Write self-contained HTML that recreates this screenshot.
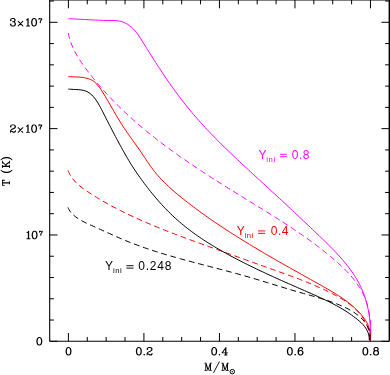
<!DOCTYPE html>
<html><head><meta charset="utf-8"><title>plot</title>
<style>
html,body{margin:0;padding:0;background:#fff;}
body{width:390px;height:375px;overflow:hidden;position:relative;font-family:"Liberation Sans",sans-serif;}
svg{position:absolute;left:0;top:0;will-change:transform;}
text{font-family:"Liberation Sans",sans-serif;font-size:12px;}
.ser{font-family:"Liberation Serif",serif;font-size:12px;}
</style></head><body>
<svg width="390" height="375" viewBox="0 0 390 375">
<rect x="0" y="0" width="390" height="375" fill="#fff"/>
<g fill="none" stroke="#000" stroke-width="1">
<path d="M49.7 0V341.3" stroke-width="1.1"/><path d="M49.7 341.3H389.3" stroke-width="1.1"/><path d="M389.3 0V341.3" stroke-width="1.4"/><path d="M49.7 0H389.3" stroke-width="1"/>
<path d="M68.40 341.30V333.00M68.40 0.00V8.30"/>
<path d="M87.28 341.30V337.00M87.28 0.00V4.30"/>
<path d="M106.16 341.30V337.00M106.16 0.00V4.30"/>
<path d="M125.04 341.30V337.00M125.04 0.00V4.30"/>
<path d="M143.92 341.30V333.00M143.92 0.00V8.30"/>
<path d="M162.80 341.30V337.00M162.80 0.00V4.30"/>
<path d="M181.68 341.30V337.00M181.68 0.00V4.30"/>
<path d="M200.56 341.30V337.00M200.56 0.00V4.30"/>
<path d="M219.44 341.30V333.00M219.44 0.00V8.30"/>
<path d="M238.32 341.30V337.00M238.32 0.00V4.30"/>
<path d="M257.20 341.30V337.00M257.20 0.00V4.30"/>
<path d="M276.08 341.30V337.00M276.08 0.00V4.30"/>
<path d="M294.96 341.30V333.00M294.96 0.00V8.30"/>
<path d="M313.84 341.30V337.00M313.84 0.00V4.30"/>
<path d="M332.72 341.30V337.00M332.72 0.00V4.30"/>
<path d="M351.60 341.30V337.00M351.60 0.00V4.30"/>
<path d="M370.48 341.30V333.00M370.48 0.00V8.30"/>
<path d="M49.70 341.30H57.50M389.30 341.30H381.50"/>
<path d="M49.70 320.03H53.90M389.30 320.03H385.10"/>
<path d="M49.70 298.77H53.90M389.30 298.77H385.10"/>
<path d="M49.70 277.50H53.90M389.30 277.50H385.10"/>
<path d="M49.70 256.24H53.90M389.30 256.24H385.10"/>
<path d="M49.70 234.97H57.50M389.30 234.97H381.50"/>
<path d="M49.70 213.70H53.90M389.30 213.70H385.10"/>
<path d="M49.70 192.44H53.90M389.30 192.44H385.10"/>
<path d="M49.70 171.17H53.90M389.30 171.17H385.10"/>
<path d="M49.70 149.91H53.90M389.30 149.91H385.10"/>
<path d="M49.70 128.64H57.50M389.30 128.64H381.50"/>
<path d="M49.70 107.37H53.90M389.30 107.37H385.10"/>
<path d="M49.70 86.11H53.90M389.30 86.11H385.10"/>
<path d="M49.70 64.84H53.90M389.30 64.84H385.10"/>
<path d="M49.70 43.58H53.90M389.30 43.58H385.10"/>
<path d="M49.70 22.31H57.50M389.30 22.31H381.50"/>
<path d="M49.70 1.04H53.90M389.30 1.04H385.10"/>
</g>
<g fill="none" stroke-width="1.0" stroke-linecap="butt" stroke-linejoin="round">
<path d="M68.30 18.70 C68.72 18.72 70.00 18.78 70.84 18.81 C71.68 18.85 72.52 18.89 73.36 18.93 C74.19 18.97 75.03 19.02 75.86 19.06 C76.69 19.10 77.51 19.14 78.34 19.19 C79.16 19.23 79.99 19.27 80.81 19.31 C81.63 19.36 82.45 19.40 83.27 19.45 C84.10 19.49 84.92 19.53 85.74 19.58 C86.56 19.62 87.39 19.66 88.21 19.71 C89.04 19.75 89.86 19.79 90.69 19.84 C91.52 19.88 92.35 19.92 93.18 19.96 C94.02 20.01 94.85 20.05 95.69 20.09 C96.53 20.13 97.38 20.17 98.23 20.20 C99.07 20.24 99.92 20.28 100.77 20.31 C101.62 20.34 102.47 20.37 103.32 20.40 C104.17 20.43 105.02 20.45 105.87 20.47 C106.72 20.49 107.57 20.50 108.41 20.51 C109.26 20.52 110.10 20.52 110.94 20.52 C111.78 20.53 112.62 20.52 113.45 20.53 C114.28 20.55 115.10 20.56 115.92 20.62 C116.74 20.68 117.56 20.75 118.37 20.87 C119.17 20.99 119.98 21.16 120.77 21.36 C121.56 21.57 122.34 21.82 123.11 22.11 C123.88 22.40 124.64 22.73 125.38 23.10 C126.12 23.46 126.84 23.86 127.55 24.29 C128.26 24.72 128.94 25.19 129.61 25.68 C130.27 26.17 130.92 26.69 131.54 27.23 C132.16 27.77 132.75 28.34 133.33 28.93 C133.91 29.51 134.46 30.13 135.00 30.75 C135.54 31.38 136.06 32.02 136.57 32.68 C137.08 33.34 137.57 34.01 138.06 34.69 C138.54 35.37 139.02 36.07 139.48 36.77 C139.95 37.47 140.40 38.18 140.86 38.90 C141.31 39.61 141.76 40.33 142.20 41.05 C142.65 41.77 143.09 42.49 143.54 43.21 C143.98 43.93 144.43 44.65 144.87 45.37 C145.32 46.08 145.76 46.80 146.21 47.52 C146.65 48.23 147.10 48.95 147.55 49.66 C147.99 50.38 148.44 51.09 148.88 51.80 C149.33 52.52 149.78 53.23 150.22 53.94 C150.67 54.65 151.12 55.36 151.57 56.07 C152.02 56.78 152.46 57.48 152.91 58.19 C153.36 58.90 153.81 59.60 154.26 60.31 C154.71 61.01 155.16 61.72 155.62 62.42 C156.07 63.12 156.52 63.82 156.97 64.52 C157.43 65.22 157.88 65.92 158.34 66.62 C158.79 67.32 159.25 68.02 159.70 68.71 C160.16 69.41 160.62 70.10 161.08 70.80 C161.54 71.49 162.00 72.18 162.46 72.88 C162.92 73.57 163.38 74.26 163.84 74.95 C164.31 75.64 164.77 76.32 165.24 77.01 C165.70 77.70 166.17 78.38 166.64 79.07 C167.11 79.75 167.58 80.43 168.05 81.12 C168.52 81.80 168.99 82.48 169.47 83.16 C169.94 83.84 170.42 84.51 170.89 85.19 C171.37 85.87 171.85 86.54 172.33 87.22 C172.81 87.89 173.29 88.56 173.78 89.23 C174.26 89.90 174.75 90.57 175.24 91.24 C175.72 91.91 176.21 92.58 176.70 93.24 C177.20 93.91 177.69 94.57 178.18 95.23 C178.68 95.90 179.18 96.56 179.68 97.22 C180.18 97.88 180.68 98.53 181.18 99.19 C181.68 99.85 182.19 100.50 182.70 101.16 C183.20 101.81 183.71 102.46 184.23 103.11 C184.74 103.76 185.25 104.41 185.77 105.06 C186.29 105.70 186.81 106.35 187.33 106.99 C187.85 107.64 188.37 108.28 188.90 108.92 C189.43 109.56 189.96 110.20 190.49 110.84 C191.02 111.48 191.55 112.11 192.09 112.75 C192.63 113.38 193.17 114.01 193.71 114.64 C194.25 115.27 194.79 115.90 195.34 116.53 C195.88 117.16 196.43 117.79 196.98 118.41 C197.53 119.04 198.08 119.66 198.63 120.28 C199.19 120.91 199.74 121.53 200.30 122.15 C200.86 122.77 201.42 123.38 201.98 124.00 C202.54 124.62 203.11 125.23 203.67 125.85 C204.24 126.46 204.81 127.07 205.38 127.69 C205.95 128.30 206.52 128.91 207.09 129.52 C207.66 130.12 208.24 130.73 208.81 131.34 C209.39 131.94 209.97 132.55 210.55 133.15 C211.13 133.76 211.71 134.36 212.29 134.96 C212.87 135.56 213.46 136.16 214.04 136.76 C214.63 137.36 215.21 137.96 215.80 138.56 C216.39 139.16 216.98 139.75 217.57 140.35 C218.16 140.94 218.75 141.54 219.35 142.13 C219.94 142.72 220.54 143.31 221.13 143.91 C221.73 144.50 222.32 145.09 222.92 145.68 C223.52 146.26 224.12 146.85 224.72 147.44 C225.32 148.03 225.92 148.61 226.52 149.20 C227.13 149.78 227.73 150.37 228.33 150.95 C228.94 151.53 229.54 152.12 230.15 152.70 C230.75 153.28 231.36 153.86 231.97 154.44 C232.58 155.02 233.18 155.60 233.79 156.18 C234.40 156.76 235.01 157.34 235.62 157.92 C236.23 158.49 236.84 159.07 237.45 159.65 C238.07 160.22 238.68 160.80 239.29 161.37 C239.90 161.95 240.52 162.52 241.13 163.09 C241.74 163.67 242.36 164.24 242.97 164.81 C243.58 165.38 244.20 165.95 244.81 166.53 C245.43 167.10 246.04 167.67 246.66 168.24 C247.27 168.81 247.89 169.38 248.50 169.94 C249.12 170.51 249.74 171.08 250.35 171.65 C250.97 172.22 251.58 172.79 252.20 173.35 C252.81 173.92 253.43 174.49 254.05 175.05 C254.66 175.62 255.28 176.18 255.89 176.75 C256.51 177.32 257.12 177.88 257.74 178.45 C258.36 179.01 258.97 179.58 259.58 180.14 C260.20 180.70 260.81 181.27 261.43 181.83 C262.04 182.40 262.66 182.96 263.27 183.52 C263.88 184.09 264.50 184.65 265.11 185.21 C265.72 185.77 266.33 186.34 266.95 186.90 C267.56 187.46 268.17 188.02 268.78 188.59 C269.39 189.15 270.00 189.71 270.61 190.27 C271.22 190.84 271.83 191.40 272.44 191.96 C273.05 192.52 273.66 193.08 274.27 193.65 C274.88 194.21 275.49 194.77 276.10 195.33 C276.71 195.89 277.32 196.46 277.92 197.02 C278.53 197.58 279.14 198.14 279.75 198.70 C280.36 199.27 280.96 199.83 281.57 200.39 C282.18 200.95 282.78 201.52 283.39 202.08 C284.00 202.64 284.60 203.20 285.21 203.77 C285.82 204.33 286.42 204.89 287.03 205.46 C287.64 206.02 288.24 206.58 288.85 207.15 C289.45 207.71 290.06 208.28 290.66 208.84 C291.27 209.41 291.88 209.97 292.48 210.53 C293.09 211.10 293.69 211.67 294.30 212.23 C294.90 212.80 295.51 213.36 296.11 213.93 C296.72 214.50 297.32 215.06 297.92 215.63 C298.53 216.20 299.13 216.77 299.74 217.33 C300.34 217.90 300.95 218.47 301.55 219.04 C302.16 219.61 302.76 220.18 303.37 220.75 C303.97 221.32 304.57 221.89 305.18 222.46 C305.78 223.03 306.39 223.60 306.99 224.18 C307.60 224.75 308.20 225.32 308.81 225.90 C309.41 226.47 310.01 227.04 310.62 227.62 C311.22 228.19 311.83 228.77 312.43 229.35 C313.04 229.92 313.64 230.50 314.25 231.08 C314.85 231.65 315.46 232.23 316.06 232.81 C316.67 233.39 317.27 233.97 317.88 234.55 C318.48 235.13 319.09 235.71 319.69 236.30 C320.30 236.88 320.91 237.46 321.51 238.05 C322.12 238.63 322.72 239.22 323.33 239.80 C323.93 240.39 324.54 240.98 325.14 241.57 C325.74 242.15 326.34 242.74 326.95 243.34 C327.55 243.93 328.15 244.52 328.74 245.12 C329.34 245.71 329.94 246.31 330.53 246.91 C331.13 247.51 331.72 248.11 332.31 248.71 C332.90 249.31 333.48 249.92 334.07 250.52 C334.65 251.13 335.23 251.74 335.81 252.35 C336.39 252.96 336.96 253.57 337.54 254.19 C338.11 254.81 338.67 255.43 339.24 256.05 C339.80 256.67 340.36 257.29 340.92 257.92 C341.47 258.55 342.02 259.18 342.57 259.81 C343.11 260.45 343.65 261.08 344.19 261.72 C344.73 262.36 345.26 263.01 345.78 263.65 C346.31 264.30 346.83 264.95 347.34 265.60 C347.85 266.26 348.36 266.91 348.86 267.58 C349.36 268.24 349.86 268.90 350.35 269.57 C350.84 270.24 351.32 270.91 351.79 271.59 C352.27 272.27 352.74 272.95 353.20 273.64 C353.66 274.32 354.11 275.01 354.55 275.71 C355.00 276.40 355.44 277.10 355.86 277.80 C356.29 278.51 356.71 279.22 357.13 279.93 C357.54 280.64 357.94 281.36 358.34 282.09 C358.73 282.81 359.11 283.54 359.49 284.27 C359.87 285.01 360.23 285.74 360.59 286.49 C360.95 287.23 361.29 287.98 361.63 288.74 C361.97 289.49 362.29 290.26 362.61 291.02 C362.93 291.79 363.23 292.56 363.53 293.34 C363.83 294.11 364.11 294.90 364.39 295.68 C364.66 296.47 364.93 297.26 365.19 298.06 C365.44 298.85 365.69 299.65 365.93 300.45 C366.16 301.26 366.39 302.06 366.61 302.87 C366.83 303.68 367.03 304.50 367.23 305.31 C367.43 306.13 367.62 306.95 367.80 307.77 C367.98 308.59 368.15 309.42 368.31 310.24 C368.47 311.07 368.62 311.90 368.76 312.73 C368.91 313.56 369.04 314.39 369.16 315.23 C369.29 316.06 369.40 316.89 369.51 317.73 C369.62 318.56 369.71 319.40 369.80 320.24 C369.89 321.07 369.97 321.91 370.04 322.75 C370.11 323.59 370.18 324.42 370.23 325.26 C370.28 326.10 370.33 326.93 370.37 327.77 C370.40 328.61 370.43 329.44 370.45 330.28 C370.47 331.11 370.48 331.94 370.49 332.77 C370.49 333.60 370.49 334.43 370.47 335.26 C370.46 336.09 370.44 336.92 370.41 337.74 C370.38 338.56 370.32 339.79 370.30 340.20" stroke="#ff00ff"/>
<path d="M68.20 33.00 C68.29 33.41 68.54 34.65 68.73 35.47 C68.93 36.28 69.14 37.09 69.37 37.90 C69.60 38.70 69.84 39.50 70.10 40.29 C70.35 41.08 70.63 41.87 70.91 42.64 C71.20 43.42 71.50 44.20 71.81 44.96 C72.12 45.73 72.45 46.49 72.79 47.25 C73.13 48.01 73.48 48.76 73.84 49.51 C74.20 50.25 74.58 50.99 74.96 51.73 C75.34 52.47 75.74 53.20 76.14 53.93 C76.55 54.65 76.96 55.38 77.39 56.09 C77.81 56.81 78.24 57.53 78.68 58.24 C79.12 58.95 79.57 59.65 80.03 60.35 C80.48 61.05 80.95 61.75 81.41 62.45 C81.88 63.14 82.36 63.83 82.84 64.52 C83.32 65.21 83.81 65.89 84.30 66.57 C84.79 67.25 85.29 67.93 85.79 68.61 C86.29 69.28 86.79 69.95 87.30 70.62 C87.81 71.29 88.32 71.96 88.83 72.63 C89.34 73.29 89.86 73.95 90.38 74.61 C90.89 75.27 91.41 75.93 91.94 76.58 C92.46 77.24 92.98 77.89 93.51 78.54 C94.04 79.19 94.57 79.84 95.10 80.49 C95.63 81.13 96.17 81.77 96.70 82.42 C97.24 83.06 97.78 83.69 98.32 84.33 C98.86 84.97 99.40 85.60 99.95 86.23 C100.50 86.86 101.04 87.49 101.60 88.12 C102.15 88.75 102.70 89.37 103.25 90.00 C103.81 90.62 104.37 91.24 104.92 91.86 C105.48 92.47 106.05 93.09 106.61 93.70 C107.17 94.32 107.74 94.93 108.31 95.54 C108.87 96.15 109.44 96.76 110.02 97.36 C110.59 97.97 111.16 98.57 111.74 99.17 C112.32 99.77 112.89 100.37 113.47 100.96 C114.05 101.56 114.64 102.16 115.22 102.75 C115.80 103.34 116.39 103.93 116.98 104.52 C117.57 105.11 118.16 105.69 118.75 106.28 C119.34 106.86 119.94 107.44 120.53 108.02 C121.13 108.60 121.73 109.18 122.33 109.75 C122.93 110.33 123.53 110.90 124.13 111.48 C124.73 112.05 125.34 112.62 125.95 113.19 C126.55 113.75 127.16 114.32 127.77 114.88 C128.38 115.45 128.99 116.01 129.61 116.57 C130.22 117.13 130.84 117.69 131.46 118.24 C132.07 118.80 132.69 119.35 133.31 119.91 C133.93 120.46 134.56 121.01 135.18 121.56 C135.81 122.11 136.43 122.65 137.06 123.20 C137.69 123.74 138.32 124.29 138.95 124.83 C139.58 125.37 140.21 125.91 140.84 126.45 C141.48 126.98 142.11 127.52 142.75 128.06 C143.39 128.59 144.02 129.12 144.66 129.65 C145.30 130.18 145.94 130.71 146.59 131.24 C147.23 131.77 147.87 132.29 148.52 132.82 C149.17 133.34 149.81 133.86 150.46 134.38 C151.11 134.91 151.76 135.42 152.41 135.94 C153.06 136.46 153.71 136.98 154.37 137.49 C155.02 138.00 155.68 138.52 156.33 139.03 C156.99 139.54 157.65 140.05 158.31 140.56 C158.97 141.07 159.63 141.57 160.29 142.08 C160.95 142.58 161.61 143.09 162.28 143.59 C162.94 144.09 163.61 144.59 164.27 145.09 C164.94 145.59 165.61 146.09 166.27 146.59 C166.94 147.09 167.61 147.58 168.28 148.08 C168.95 148.57 169.63 149.06 170.30 149.55 C170.97 150.05 171.65 150.54 172.32 151.03 C173.00 151.51 173.67 152.00 174.35 152.49 C175.03 152.97 175.71 153.46 176.39 153.94 C177.06 154.43 177.74 154.91 178.43 155.39 C179.11 155.87 179.79 156.35 180.47 156.83 C181.16 157.31 181.84 157.79 182.52 158.27 C183.21 158.74 183.90 159.22 184.58 159.69 C185.27 160.17 185.96 160.64 186.64 161.11 C187.33 161.59 188.02 162.06 188.71 162.53 C189.40 163.00 190.09 163.47 190.78 163.94 C191.48 164.41 192.17 164.87 192.86 165.34 C193.55 165.81 194.25 166.27 194.94 166.74 C195.64 167.20 196.33 167.66 197.03 168.13 C197.72 168.59 198.42 169.05 199.12 169.51 C199.81 169.97 200.51 170.43 201.21 170.89 C201.91 171.35 202.61 171.81 203.31 172.26 C204.01 172.72 204.71 173.18 205.41 173.63 C206.11 174.09 206.81 174.55 207.51 175.00 C208.21 175.45 208.91 175.91 209.62 176.36 C210.32 176.81 211.02 177.26 211.73 177.72 C212.43 178.17 213.13 178.62 213.84 179.07 C214.54 179.52 215.25 179.97 215.95 180.42 C216.66 180.86 217.36 181.31 218.07 181.76 C218.78 182.21 219.48 182.65 220.19 183.10 C220.90 183.55 221.60 183.99 222.31 184.44 C223.02 184.88 223.73 185.33 224.43 185.77 C225.14 186.21 225.85 186.66 226.56 187.10 C227.27 187.54 227.98 187.99 228.68 188.43 C229.39 188.87 230.10 189.31 230.81 189.75 C231.52 190.19 232.23 190.63 232.94 191.07 C233.65 191.52 234.36 191.96 235.07 192.39 C235.78 192.83 236.49 193.27 237.20 193.71 C237.91 194.15 238.62 194.59 239.33 195.03 C240.04 195.47 240.75 195.90 241.46 196.34 C242.17 196.78 242.88 197.22 243.59 197.65 C244.30 198.09 245.01 198.53 245.72 198.97 C246.43 199.40 247.14 199.84 247.85 200.28 C248.56 200.71 249.27 201.15 249.98 201.58 C250.69 202.02 251.40 202.46 252.11 202.89 C252.82 203.33 253.53 203.76 254.24 204.20 C254.95 204.63 255.65 205.07 256.36 205.51 C257.07 205.94 257.78 206.38 258.49 206.81 C259.20 207.25 259.91 207.69 260.61 208.12 C261.32 208.56 262.03 209.00 262.74 209.43 C263.44 209.87 264.15 210.31 264.86 210.74 C265.56 211.18 266.27 211.62 266.97 212.06 C267.68 212.50 268.39 212.94 269.09 213.38 C269.80 213.82 270.50 214.26 271.20 214.70 C271.91 215.14 272.61 215.58 273.31 216.02 C274.02 216.46 274.72 216.91 275.42 217.35 C276.12 217.79 276.83 218.24 277.53 218.68 C278.23 219.13 278.93 219.57 279.63 220.02 C280.33 220.47 281.03 220.91 281.73 221.36 C282.43 221.81 283.12 222.26 283.82 222.71 C284.52 223.16 285.21 223.62 285.91 224.07 C286.61 224.52 287.30 224.98 288.00 225.43 C288.69 225.89 289.39 226.34 290.08 226.80 C290.77 227.26 291.46 227.72 292.16 228.18 C292.85 228.64 293.54 229.10 294.23 229.57 C294.92 230.03 295.61 230.50 296.30 230.96 C296.98 231.43 297.67 231.90 298.36 232.37 C299.04 232.84 299.73 233.31 300.41 233.78 C301.10 234.25 301.78 234.73 302.46 235.21 C303.15 235.68 303.83 236.16 304.51 236.64 C305.19 237.12 305.87 237.60 306.55 238.09 C307.23 238.57 307.91 239.06 308.58 239.54 C309.26 240.03 309.93 240.52 310.61 241.01 C311.28 241.50 311.96 242.00 312.63 242.49 C313.30 242.99 313.97 243.49 314.64 243.99 C315.31 244.49 315.98 244.99 316.65 245.50 C317.32 246.00 317.98 246.51 318.65 247.02 C319.31 247.53 319.98 248.04 320.64 248.55 C321.30 249.07 321.96 249.59 322.62 250.11 C323.28 250.62 323.94 251.15 324.60 251.67 C325.26 252.20 325.91 252.72 326.57 253.25 C327.22 253.78 327.87 254.32 328.53 254.85 C329.18 255.39 329.83 255.92 330.48 256.46 C331.13 257.01 331.77 257.55 332.42 258.10 C333.06 258.64 333.71 259.19 334.35 259.75 C334.99 260.30 335.63 260.85 336.27 261.41 C336.90 261.97 337.53 262.54 338.16 263.10 C338.79 263.67 339.42 264.24 340.04 264.81 C340.66 265.38 341.28 265.96 341.89 266.54 C342.50 267.12 343.11 267.71 343.71 268.30 C344.31 268.89 344.91 269.48 345.50 270.08 C346.08 270.68 346.67 271.28 347.25 271.88 C347.82 272.49 348.39 273.10 348.95 273.71 C349.52 274.33 350.07 274.95 350.62 275.57 C351.17 276.20 351.71 276.83 352.24 277.46 C352.77 278.10 353.29 278.74 353.80 279.38 C354.32 280.03 354.82 280.68 355.32 281.33 C355.81 281.99 356.29 282.65 356.77 283.31 C357.24 283.98 357.71 284.65 358.16 285.33 C358.61 286.01 359.05 286.69 359.48 287.38 C359.91 288.07 360.33 288.76 360.74 289.47 C361.14 290.17 361.54 290.87 361.92 291.59 C362.30 292.30 362.67 293.02 363.02 293.75 C363.38 294.47 363.72 295.21 364.05 295.95 C364.38 296.68 364.69 297.43 365.00 298.18 C365.30 298.93 365.59 299.69 365.87 300.45 C366.14 301.21 366.41 301.98 366.66 302.75 C366.92 303.52 367.16 304.30 367.38 305.08 C367.61 305.87 367.83 306.65 368.03 307.45 C368.24 308.24 368.43 309.04 368.61 309.84 C368.79 310.64 368.96 311.45 369.11 312.26 C369.27 313.07 369.42 313.88 369.55 314.70 C369.68 315.52 369.81 316.34 369.92 317.17 C370.03 317.99 370.13 318.83 370.22 319.66 C370.30 320.49 370.38 321.33 370.45 322.17 C370.51 323.01 370.57 323.85 370.61 324.70 C370.66 325.55 370.69 326.40 370.72 327.25 C370.74 328.10 370.75 328.96 370.76 329.81 C370.76 330.67 370.75 331.53 370.73 332.39 C370.71 333.25 370.69 334.12 370.65 334.98 C370.61 335.85 370.56 336.72 370.50 337.59 C370.45 338.46 370.33 339.76 370.30 340.20" stroke="#ff00ff" stroke-dasharray="5.92 3.79"/>
<path d="M68.40 76.60 C68.81 76.62 70.04 76.68 70.87 76.72 C71.69 76.75 72.52 76.78 73.36 76.81 C74.19 76.84 75.03 76.87 75.88 76.91 C76.72 76.95 77.56 76.99 78.41 77.04 C79.25 77.10 80.10 77.17 80.94 77.25 C81.78 77.34 82.62 77.44 83.45 77.56 C84.28 77.69 85.11 77.83 85.92 78.01 C86.73 78.18 87.53 78.38 88.31 78.62 C89.09 78.87 89.86 79.14 90.60 79.47 C91.34 79.80 92.06 80.17 92.76 80.60 C93.45 81.04 94.11 81.54 94.75 82.08 C95.38 82.62 95.99 83.24 96.57 83.87 C97.15 84.49 97.70 85.16 98.24 85.83 C98.78 86.49 99.29 87.17 99.79 87.86 C100.29 88.54 100.76 89.23 101.23 89.92 C101.70 90.62 102.15 91.32 102.60 92.03 C103.04 92.73 103.48 93.44 103.91 94.15 C104.34 94.86 104.76 95.58 105.19 96.29 C105.61 97.01 106.03 97.73 106.45 98.44 C106.87 99.16 107.29 99.88 107.71 100.60 C108.13 101.32 108.54 102.04 108.96 102.76 C109.37 103.48 109.79 104.20 110.20 104.92 C110.62 105.64 111.03 106.36 111.45 107.08 C111.86 107.80 112.28 108.53 112.69 109.25 C113.11 109.97 113.52 110.69 113.94 111.41 C114.36 112.13 114.78 112.85 115.20 113.57 C115.62 114.29 116.04 115.01 116.46 115.72 C116.89 116.44 117.31 117.16 117.74 117.87 C118.17 118.59 118.60 119.30 119.04 120.01 C119.47 120.73 119.91 121.44 120.35 122.15 C120.79 122.86 121.23 123.56 121.68 124.27 C122.13 124.98 122.58 125.68 123.03 126.38 C123.49 127.08 123.95 127.78 124.41 128.48 C124.88 129.18 125.35 129.87 125.82 130.56 C126.29 131.25 126.77 131.95 127.25 132.63 C127.73 133.32 128.21 134.01 128.69 134.70 C129.17 135.38 129.66 136.07 130.15 136.75 C130.63 137.44 131.12 138.12 131.61 138.80 C132.10 139.48 132.59 140.16 133.08 140.84 C133.57 141.53 134.06 142.21 134.54 142.89 C135.03 143.57 135.52 144.25 136.00 144.93 C136.49 145.61 136.97 146.29 137.45 146.97 C137.93 147.65 138.41 148.33 138.89 149.02 C139.36 149.70 139.83 150.38 140.30 151.07 C140.77 151.75 141.23 152.44 141.70 153.13 C142.16 153.81 142.62 154.50 143.08 155.19 C143.54 155.87 143.99 156.56 144.45 157.25 C144.91 157.93 145.37 158.62 145.83 159.30 C146.29 159.99 146.75 160.67 147.21 161.36 C147.68 162.04 148.14 162.72 148.61 163.40 C149.08 164.08 149.56 164.76 150.03 165.44 C150.51 166.11 151.00 166.79 151.49 167.46 C151.98 168.13 152.47 168.80 152.97 169.46 C153.48 170.13 153.99 170.79 154.51 171.45 C155.03 172.11 155.55 172.77 156.09 173.42 C156.63 174.07 157.18 174.72 157.73 175.36 C158.29 176.00 158.86 176.64 159.43 177.27 C160.00 177.91 160.59 178.53 161.17 179.16 C161.76 179.78 162.36 180.40 162.96 181.01 C163.56 181.62 164.16 182.23 164.77 182.83 C165.37 183.43 165.98 184.02 166.59 184.61 C167.21 185.20 167.82 185.78 168.44 186.35 C169.06 186.93 169.68 187.50 170.30 188.07 C170.92 188.63 171.55 189.19 172.18 189.75 C172.81 190.31 173.44 190.86 174.07 191.41 C174.70 191.95 175.34 192.50 175.97 193.04 C176.61 193.57 177.25 194.11 177.89 194.64 C178.53 195.18 179.17 195.70 179.82 196.23 C180.46 196.76 181.11 197.28 181.75 197.80 C182.40 198.32 183.05 198.84 183.70 199.35 C184.35 199.87 185.00 200.38 185.66 200.90 C186.31 201.41 186.96 201.92 187.62 202.43 C188.28 202.94 188.93 203.44 189.59 203.95 C190.25 204.45 190.91 204.96 191.57 205.46 C192.23 205.96 192.89 206.46 193.55 206.96 C194.22 207.46 194.88 207.96 195.55 208.45 C196.21 208.95 196.88 209.44 197.55 209.93 C198.22 210.43 198.88 210.92 199.55 211.41 C200.22 211.89 200.90 212.38 201.57 212.87 C202.24 213.35 202.91 213.84 203.59 214.32 C204.26 214.80 204.94 215.29 205.61 215.77 C206.29 216.25 206.97 216.72 207.65 217.20 C208.33 217.68 209.01 218.15 209.69 218.63 C210.37 219.10 211.05 219.58 211.73 220.05 C212.42 220.52 213.10 220.99 213.79 221.46 C214.47 221.93 215.16 222.40 215.84 222.86 C216.53 223.33 217.22 223.79 217.91 224.26 C218.60 224.72 219.29 225.18 219.98 225.64 C220.67 226.11 221.36 226.56 222.05 227.02 C222.74 227.48 223.44 227.94 224.13 228.40 C224.83 228.85 225.52 229.31 226.22 229.76 C226.91 230.22 227.61 230.67 228.31 231.12 C229.01 231.57 229.70 232.02 230.40 232.47 C231.10 232.92 231.80 233.37 232.50 233.82 C233.21 234.26 233.91 234.71 234.61 235.16 C235.31 235.60 236.02 236.04 236.72 236.49 C237.43 236.93 238.13 237.37 238.84 237.81 C239.54 238.26 240.25 238.70 240.96 239.14 C241.66 239.57 242.37 240.01 243.08 240.45 C243.79 240.89 244.50 241.32 245.21 241.76 C245.92 242.20 246.63 242.63 247.34 243.06 C248.05 243.50 248.76 243.93 249.48 244.36 C250.19 244.80 250.90 245.23 251.62 245.66 C252.33 246.09 253.04 246.52 253.76 246.95 C254.47 247.38 255.19 247.80 255.91 248.23 C256.62 248.66 257.34 249.09 258.06 249.51 C258.77 249.94 259.49 250.36 260.21 250.79 C260.93 251.21 261.65 251.64 262.37 252.06 C263.09 252.48 263.81 252.91 264.53 253.33 C265.25 253.75 265.97 254.17 266.69 254.59 C267.41 255.01 268.14 255.43 268.86 255.85 C269.58 256.27 270.30 256.69 271.03 257.11 C271.75 257.53 272.47 257.95 273.20 258.37 C273.92 258.78 274.65 259.20 275.37 259.62 C276.10 260.03 276.82 260.45 277.55 260.87 C278.28 261.28 279.00 261.70 279.73 262.11 C280.45 262.53 281.18 262.94 281.91 263.36 C282.64 263.77 283.36 264.18 284.09 264.60 C284.82 265.01 285.55 265.42 286.28 265.84 C287.00 266.25 287.73 266.66 288.46 267.07 C289.19 267.49 289.92 267.90 290.65 268.31 C291.38 268.72 292.11 269.13 292.84 269.54 C293.57 269.96 294.30 270.37 295.03 270.78 C295.76 271.19 296.49 271.60 297.22 272.01 C297.95 272.42 298.68 272.83 299.42 273.24 C300.15 273.65 300.88 274.06 301.61 274.47 C302.34 274.88 303.07 275.29 303.80 275.70 C304.54 276.11 305.27 276.52 306.00 276.93 C306.73 277.34 307.46 277.75 308.20 278.16 C308.93 278.57 309.66 278.98 310.39 279.39 C311.13 279.80 311.86 280.20 312.59 280.61 C313.32 281.02 314.06 281.43 314.79 281.84 C315.52 282.25 316.25 282.66 316.99 283.07 C317.72 283.48 318.45 283.89 319.18 284.30 C319.92 284.71 320.65 285.12 321.38 285.53 C322.11 285.94 322.84 286.36 323.58 286.77 C324.31 287.18 325.04 287.59 325.77 288.01 C326.50 288.42 327.22 288.84 327.95 289.26 C328.68 289.67 329.40 290.09 330.12 290.52 C330.85 290.94 331.57 291.36 332.28 291.79 C333.00 292.22 333.72 292.65 334.43 293.09 C335.14 293.52 335.85 293.96 336.56 294.40 C337.26 294.84 337.97 295.29 338.66 295.74 C339.36 296.19 340.06 296.65 340.75 297.11 C341.44 297.57 342.12 298.03 342.80 298.50 C343.48 298.97 344.16 299.45 344.83 299.93 C345.50 300.41 346.17 300.90 346.83 301.40 C347.49 301.89 348.14 302.39 348.79 302.90 C349.44 303.41 350.08 303.93 350.71 304.45 C351.35 304.97 351.98 305.50 352.60 306.04 C353.22 306.58 353.83 307.13 354.44 307.68 C355.05 308.24 355.65 308.80 356.24 309.38 C356.83 309.95 357.41 310.53 357.99 311.13 C358.56 311.72 359.13 312.32 359.69 312.93 C360.24 313.54 360.79 314.16 361.33 314.80 C361.87 315.43 362.40 316.07 362.92 316.73 C363.43 317.38 363.93 318.05 364.41 318.72 C364.90 319.40 365.36 320.09 365.80 320.79 C366.24 321.49 366.65 322.20 367.04 322.93 C367.42 323.65 367.78 324.39 368.10 325.14 C368.42 325.90 368.71 326.66 368.96 327.44 C369.21 328.22 369.43 329.01 369.61 329.81 C369.79 330.62 369.93 331.44 370.04 332.28 C370.14 333.11 370.22 333.96 370.25 334.82 C370.28 335.69 370.28 336.57 370.24 337.47 C370.20 338.36 370.04 339.74 370.00 340.20" stroke="#ff0000"/>
<path d="M68.00 170.30 C68.16 170.69 68.60 171.90 68.95 172.66 C69.30 173.42 69.69 174.15 70.10 174.86 C70.51 175.58 70.95 176.27 71.42 176.96 C71.88 177.64 72.38 178.32 72.89 178.99 C73.40 179.66 73.94 180.33 74.49 180.97 C75.05 181.61 75.63 182.24 76.22 182.83 C76.81 183.42 77.41 183.99 78.03 184.53 C78.65 185.07 79.28 185.59 79.92 186.09 C80.57 186.60 81.22 187.09 81.88 187.57 C82.53 188.06 83.20 188.53 83.86 189.00 C84.53 189.48 85.20 189.95 85.88 190.42 C86.56 190.89 87.24 191.35 87.92 191.81 C88.61 192.28 89.30 192.73 89.99 193.19 C90.68 193.65 91.38 194.10 92.08 194.55 C92.78 195.00 93.48 195.45 94.19 195.89 C94.90 196.34 95.61 196.78 96.32 197.22 C97.04 197.66 97.75 198.10 98.47 198.53 C99.19 198.96 99.92 199.39 100.64 199.82 C101.37 200.25 102.09 200.67 102.82 201.09 C103.55 201.52 104.29 201.93 105.02 202.35 C105.76 202.77 106.49 203.18 107.23 203.59 C107.97 204.00 108.71 204.41 109.46 204.82 C110.20 205.22 110.94 205.62 111.69 206.02 C112.43 206.42 113.18 206.82 113.93 207.22 C114.68 207.61 115.43 208.00 116.18 208.39 C116.93 208.78 117.68 209.17 118.43 209.55 C119.19 209.94 119.94 210.32 120.69 210.70 C121.45 211.08 122.20 211.45 122.96 211.83 C123.71 212.20 124.47 212.57 125.22 212.94 C125.98 213.31 126.73 213.67 127.49 214.04 C128.25 214.40 129.01 214.76 129.77 215.12 C130.52 215.48 131.28 215.84 132.04 216.19 C132.80 216.55 133.56 216.90 134.32 217.25 C135.08 217.60 135.84 217.95 136.61 218.30 C137.37 218.64 138.13 218.99 138.89 219.33 C139.65 219.67 140.42 220.01 141.18 220.35 C141.94 220.69 142.71 221.02 143.47 221.36 C144.24 221.69 145.00 222.02 145.77 222.35 C146.54 222.68 147.30 223.01 148.07 223.34 C148.84 223.67 149.60 223.99 150.37 224.31 C151.14 224.64 151.91 224.96 152.67 225.28 C153.44 225.60 154.21 225.92 154.98 226.23 C155.75 226.55 156.52 226.87 157.29 227.18 C158.06 227.49 158.83 227.81 159.61 228.12 C160.38 228.43 161.15 228.74 161.92 229.05 C162.69 229.36 163.47 229.66 164.24 229.97 C165.01 230.27 165.79 230.58 166.56 230.88 C167.33 231.19 168.11 231.49 168.88 231.79 C169.66 232.09 170.43 232.39 171.21 232.69 C171.99 232.99 172.76 233.28 173.54 233.58 C174.31 233.88 175.09 234.17 175.87 234.47 C176.65 234.76 177.42 235.06 178.20 235.35 C178.98 235.64 179.76 235.93 180.54 236.23 C181.32 236.52 182.10 236.81 182.87 237.10 C183.65 237.39 184.43 237.68 185.21 237.97 C185.99 238.25 186.78 238.54 187.56 238.83 C188.34 239.12 189.12 239.40 189.90 239.69 C190.68 239.98 191.46 240.26 192.25 240.55 C193.03 240.83 193.81 241.12 194.59 241.40 C195.38 241.69 196.16 241.97 196.94 242.25 C197.73 242.54 198.51 242.82 199.29 243.11 C200.08 243.39 200.86 243.67 201.65 243.95 C202.43 244.24 203.22 244.52 204.00 244.80 C204.79 245.09 205.57 245.37 206.36 245.65 C207.14 245.93 207.93 246.22 208.72 246.50 C209.50 246.78 210.29 247.06 211.08 247.35 C211.86 247.63 212.65 247.91 213.44 248.20 C214.23 248.48 215.01 248.76 215.80 249.05 C216.59 249.33 217.38 249.61 218.16 249.90 C218.95 250.18 219.74 250.46 220.53 250.75 C221.32 251.03 222.11 251.32 222.90 251.60 C223.69 251.89 224.47 252.17 225.26 252.45 C226.05 252.74 226.84 253.02 227.63 253.31 C228.42 253.59 229.21 253.88 230.00 254.16 C230.79 254.45 231.58 254.73 232.37 255.02 C233.16 255.30 233.95 255.59 234.74 255.87 C235.53 256.16 236.32 256.44 237.11 256.73 C237.90 257.01 238.69 257.30 239.48 257.58 C240.27 257.87 241.06 258.15 241.85 258.44 C242.64 258.72 243.43 259.00 244.22 259.29 C245.01 259.57 245.80 259.86 246.59 260.14 C247.38 260.43 248.17 260.71 248.96 260.99 C249.75 261.28 250.54 261.56 251.33 261.85 C252.12 262.13 252.91 262.41 253.69 262.70 C254.48 262.98 255.27 263.26 256.06 263.54 C256.85 263.83 257.64 264.11 258.43 264.39 C259.22 264.67 260.00 264.96 260.79 265.24 C261.58 265.52 262.37 265.80 263.16 266.08 C263.94 266.36 264.73 266.65 265.52 266.93 C266.31 267.21 267.09 267.49 267.88 267.77 C268.67 268.05 269.45 268.33 270.24 268.61 C271.03 268.89 271.81 269.16 272.60 269.44 C273.38 269.72 274.17 270.00 274.95 270.28 C275.74 270.56 276.52 270.84 277.31 271.12 C278.09 271.40 278.87 271.68 279.66 271.96 C280.44 272.24 281.22 272.52 282.01 272.80 C282.79 273.08 283.57 273.36 284.35 273.64 C285.14 273.93 285.92 274.21 286.70 274.49 C287.48 274.78 288.26 275.06 289.04 275.35 C289.82 275.63 290.60 275.92 291.38 276.21 C292.16 276.50 292.94 276.79 293.71 277.08 C294.49 277.37 295.27 277.66 296.05 277.95 C296.82 278.25 297.60 278.54 298.37 278.84 C299.15 279.14 299.93 279.43 300.70 279.74 C301.48 280.04 302.25 280.34 303.02 280.64 C303.80 280.95 304.57 281.25 305.34 281.56 C306.11 281.87 306.89 282.18 307.66 282.50 C308.43 282.81 309.20 283.13 309.97 283.44 C310.74 283.76 311.51 284.08 312.27 284.41 C313.04 284.73 313.81 285.06 314.58 285.38 C315.34 285.71 316.11 286.05 316.87 286.38 C317.64 286.72 318.40 287.05 319.17 287.39 C319.93 287.73 320.70 288.08 321.46 288.43 C322.22 288.77 322.98 289.13 323.74 289.48 C324.50 289.83 325.26 290.19 326.02 290.55 C326.78 290.92 327.54 291.28 328.30 291.65 C329.05 292.02 329.81 292.39 330.57 292.77 C331.32 293.15 332.08 293.53 332.83 293.91 C333.58 294.30 334.33 294.69 335.08 295.09 C335.82 295.48 336.57 295.88 337.31 296.29 C338.05 296.70 338.78 297.11 339.51 297.53 C340.24 297.96 340.97 298.38 341.69 298.82 C342.41 299.25 343.13 299.70 343.83 300.15 C344.54 300.60 345.24 301.06 345.94 301.52 C346.63 301.99 347.32 302.47 347.99 302.95 C348.67 303.44 349.34 303.93 350.00 304.44 C350.66 304.95 351.31 305.46 351.95 305.99 C352.58 306.51 353.21 307.05 353.83 307.60 C354.45 308.15 355.05 308.71 355.65 309.28 C356.24 309.85 356.82 310.43 357.39 311.03 C357.96 311.63 358.52 312.24 359.06 312.86 C359.60 313.48 360.13 314.12 360.64 314.77 C361.15 315.42 361.65 316.08 362.13 316.76 C362.61 317.44 363.07 318.13 363.52 318.84 C363.97 319.54 364.40 320.26 364.81 320.99 C365.21 321.72 365.61 322.47 365.97 323.22 C366.34 323.97 366.69 324.73 367.01 325.51 C367.34 326.28 367.64 327.06 367.92 327.85 C368.19 328.64 368.44 329.44 368.67 330.25 C368.89 331.05 369.09 331.87 369.26 332.69 C369.44 333.51 369.58 334.33 369.69 335.16 C369.80 336.00 369.89 336.83 369.94 337.67 C369.99 338.51 369.99 339.78 370.00 340.20" stroke="#ff0000" stroke-dasharray="5.79 3.71"/>
<path d="M68.30 89.00 C68.71 89.04 69.91 89.19 70.73 89.26 C71.56 89.32 72.40 89.37 73.25 89.41 C74.10 89.46 74.96 89.48 75.82 89.53 C76.67 89.57 77.53 89.61 78.38 89.67 C79.23 89.73 80.08 89.80 80.91 89.91 C81.74 90.02 82.56 90.15 83.35 90.34 C84.15 90.52 84.93 90.75 85.68 91.03 C86.44 91.31 87.17 91.64 87.88 92.03 C88.59 92.42 89.28 92.88 89.94 93.38 C90.60 93.88 91.24 94.44 91.86 95.03 C92.47 95.62 93.06 96.26 93.62 96.90 C94.19 97.55 94.72 98.22 95.23 98.90 C95.74 99.57 96.22 100.26 96.68 100.95 C97.15 101.65 97.59 102.35 98.02 103.06 C98.45 103.77 98.86 104.49 99.27 105.21 C99.67 105.93 100.07 106.66 100.46 107.40 C100.85 108.13 101.24 108.87 101.63 109.61 C102.01 110.35 102.39 111.09 102.77 111.84 C103.15 112.58 103.53 113.33 103.91 114.08 C104.28 114.83 104.66 115.58 105.04 116.33 C105.42 117.08 105.79 117.83 106.17 118.58 C106.55 119.33 106.93 120.08 107.31 120.82 C107.69 121.57 108.07 122.32 108.46 123.07 C108.84 123.81 109.22 124.56 109.60 125.31 C109.99 126.05 110.37 126.80 110.76 127.54 C111.14 128.29 111.53 129.03 111.92 129.78 C112.30 130.52 112.69 131.26 113.08 132.01 C113.47 132.75 113.86 133.49 114.25 134.23 C114.64 134.97 115.03 135.71 115.42 136.45 C115.82 137.19 116.21 137.93 116.60 138.66 C117.00 139.40 117.39 140.14 117.79 140.87 C118.19 141.61 118.58 142.34 118.98 143.08 C119.38 143.81 119.78 144.54 120.18 145.28 C120.58 146.01 120.98 146.74 121.38 147.47 C121.79 148.20 122.19 148.92 122.59 149.65 C123.00 150.38 123.40 151.10 123.81 151.83 C124.22 152.55 124.62 153.28 125.03 154.00 C125.44 154.72 125.85 155.44 126.27 156.16 C126.68 156.88 127.10 157.60 127.51 158.32 C127.93 159.03 128.35 159.75 128.78 160.46 C129.20 161.18 129.63 161.89 130.06 162.60 C130.49 163.31 130.93 164.02 131.37 164.73 C131.81 165.43 132.26 166.14 132.71 166.84 C133.16 167.55 133.61 168.25 134.08 168.95 C134.54 169.65 135.00 170.35 135.47 171.05 C135.94 171.74 136.42 172.44 136.90 173.13 C137.37 173.83 137.86 174.52 138.34 175.21 C138.82 175.89 139.31 176.58 139.80 177.27 C140.29 177.95 140.79 178.64 141.28 179.32 C141.78 180.00 142.27 180.68 142.77 181.35 C143.27 182.03 143.77 182.70 144.27 183.38 C144.78 184.05 145.28 184.72 145.79 185.39 C146.29 186.05 146.80 186.72 147.32 187.38 C147.83 188.04 148.34 188.70 148.86 189.36 C149.37 190.02 149.89 190.67 150.41 191.33 C150.94 191.98 151.46 192.63 151.99 193.28 C152.51 193.92 153.04 194.57 153.57 195.21 C154.10 195.85 154.64 196.49 155.18 197.13 C155.71 197.76 156.25 198.40 156.80 199.03 C157.34 199.66 157.88 200.28 158.43 200.91 C158.98 201.53 159.53 202.16 160.09 202.77 C160.64 203.39 161.20 204.01 161.76 204.62 C162.32 205.23 162.88 205.84 163.45 206.45 C164.01 207.05 164.58 207.66 165.16 208.26 C165.73 208.86 166.31 209.45 166.89 210.05 C167.47 210.64 168.05 211.23 168.64 211.81 C169.22 212.40 169.81 212.98 170.40 213.56 C171.00 214.14 171.60 214.72 172.20 215.29 C172.80 215.86 173.40 216.43 174.01 216.99 C174.62 217.56 175.23 218.12 175.84 218.68 C176.46 219.23 177.08 219.79 177.70 220.34 C178.32 220.89 178.95 221.43 179.58 221.98 C180.21 222.52 180.84 223.06 181.48 223.59 C182.12 224.12 182.76 224.66 183.41 225.18 C184.05 225.71 184.70 226.23 185.35 226.75 C186.01 227.27 186.66 227.79 187.32 228.30 C187.98 228.82 188.64 229.33 189.31 229.83 C189.97 230.34 190.64 230.84 191.31 231.34 C191.98 231.84 192.66 232.33 193.33 232.83 C194.01 233.32 194.69 233.81 195.38 234.29 C196.06 234.78 196.74 235.26 197.43 235.74 C198.12 236.22 198.81 236.70 199.51 237.17 C200.20 237.64 200.90 238.11 201.59 238.58 C202.29 239.05 202.99 239.51 203.70 239.97 C204.40 240.43 205.11 240.89 205.81 241.35 C206.52 241.80 207.23 242.26 207.94 242.71 C208.66 243.15 209.37 243.60 210.09 244.05 C210.80 244.49 211.52 244.93 212.24 245.37 C212.96 245.81 213.68 246.24 214.40 246.68 C215.12 247.11 215.85 247.54 216.57 247.97 C217.30 248.40 218.03 248.82 218.76 249.25 C219.49 249.67 220.22 250.09 220.95 250.51 C221.68 250.93 222.41 251.34 223.15 251.76 C223.88 252.17 224.61 252.58 225.35 252.99 C226.09 253.40 226.82 253.80 227.56 254.21 C228.30 254.61 229.04 255.02 229.78 255.42 C230.52 255.82 231.26 256.21 232.00 256.61 C232.74 257.01 233.48 257.40 234.22 257.79 C234.96 258.18 235.71 258.57 236.45 258.96 C237.19 259.35 237.94 259.74 238.68 260.12 C239.42 260.51 240.17 260.89 240.91 261.27 C241.66 261.65 242.40 262.03 243.15 262.40 C243.89 262.78 244.64 263.16 245.38 263.53 C246.13 263.91 246.87 264.28 247.62 264.65 C248.37 265.02 249.12 265.39 249.86 265.76 C250.61 266.12 251.36 266.49 252.11 266.85 C252.86 267.22 253.60 267.58 254.35 267.94 C255.10 268.31 255.85 268.67 256.60 269.03 C257.35 269.38 258.10 269.74 258.85 270.10 C259.60 270.46 260.36 270.81 261.11 271.17 C261.86 271.52 262.61 271.87 263.36 272.23 C264.12 272.58 264.87 272.93 265.62 273.28 C266.38 273.63 267.13 273.98 267.88 274.33 C268.64 274.67 269.39 275.02 270.15 275.37 C270.90 275.71 271.66 276.06 272.41 276.40 C273.17 276.75 273.93 277.09 274.68 277.44 C275.44 277.78 276.20 278.12 276.95 278.46 C277.71 278.80 278.47 279.15 279.23 279.49 C279.99 279.83 280.74 280.17 281.50 280.51 C282.26 280.84 283.02 281.18 283.78 281.52 C284.54 281.86 285.30 282.20 286.06 282.54 C286.82 282.87 287.59 283.21 288.35 283.55 C289.11 283.88 289.87 284.22 290.63 284.56 C291.40 284.89 292.16 285.23 292.92 285.56 C293.69 285.90 294.45 286.24 295.21 286.57 C295.98 286.91 296.74 287.24 297.51 287.58 C298.27 287.91 299.04 288.25 299.80 288.58 C300.57 288.92 301.34 289.25 302.10 289.59 C302.87 289.93 303.64 290.26 304.41 290.60 C305.17 290.93 305.94 291.27 306.71 291.61 C307.48 291.94 308.25 292.28 309.02 292.62 C309.79 292.95 310.56 293.29 311.33 293.63 C312.10 293.97 312.87 294.31 313.63 294.65 C314.40 294.99 315.17 295.33 315.94 295.67 C316.71 296.02 317.48 296.36 318.24 296.71 C319.01 297.06 319.78 297.41 320.54 297.76 C321.30 298.11 322.07 298.46 322.83 298.82 C323.59 299.17 324.35 299.53 325.11 299.89 C325.87 300.26 326.63 300.62 327.38 300.99 C328.14 301.36 328.89 301.73 329.64 302.10 C330.40 302.48 331.14 302.86 331.89 303.24 C332.64 303.62 333.38 304.01 334.12 304.40 C334.86 304.79 335.60 305.19 336.34 305.59 C337.07 305.99 337.81 306.39 338.54 306.80 C339.27 307.21 339.99 307.63 340.72 308.05 C341.44 308.47 342.16 308.90 342.87 309.33 C343.59 309.76 344.30 310.20 345.01 310.64 C345.71 311.08 346.42 311.53 347.12 311.99 C347.82 312.45 348.51 312.91 349.20 313.38 C349.89 313.85 350.58 314.32 351.26 314.80 C351.94 315.29 352.61 315.78 353.28 316.28 C353.95 316.77 354.62 317.28 355.28 317.79 C355.94 318.30 356.60 318.82 357.24 319.35 C357.89 319.88 358.54 320.42 359.17 320.97 C359.79 321.52 360.42 322.07 361.02 322.65 C361.62 323.22 362.20 323.81 362.76 324.41 C363.32 325.01 363.86 325.63 364.37 326.26 C364.88 326.90 365.36 327.55 365.81 328.23 C366.25 328.90 366.67 329.60 367.04 330.32 C367.42 331.03 367.75 331.77 368.04 332.54 C368.33 333.31 368.58 334.10 368.77 334.92 C368.97 335.74 369.12 336.59 369.20 337.47 C369.29 338.35 369.28 339.75 369.30 340.20" stroke="#000"/>
<path d="M68.00 207.40 C68.18 207.78 68.65 208.96 69.06 209.69 C69.46 210.42 69.93 211.11 70.42 211.78 C70.92 212.44 71.47 213.07 72.05 213.68 C72.62 214.28 73.24 214.86 73.87 215.41 C74.50 215.97 75.16 216.49 75.82 217.00 C76.49 217.50 77.18 217.98 77.87 218.45 C78.57 218.91 79.27 219.35 79.99 219.78 C80.71 220.21 81.44 220.62 82.17 221.02 C82.91 221.42 83.66 221.81 84.41 222.18 C85.16 222.56 85.92 222.92 86.68 223.28 C87.44 223.64 88.21 223.99 88.98 224.34 C89.75 224.68 90.52 225.02 91.29 225.36 C92.06 225.70 92.84 226.04 93.61 226.38 C94.38 226.72 95.15 227.06 95.92 227.41 C96.69 227.75 97.46 228.09 98.23 228.44 C98.99 228.78 99.76 229.13 100.53 229.48 C101.29 229.82 102.06 230.17 102.82 230.52 C103.58 230.87 104.35 231.21 105.11 231.56 C105.87 231.91 106.64 232.26 107.40 232.60 C108.16 232.95 108.92 233.30 109.69 233.64 C110.45 233.99 111.21 234.34 111.97 234.68 C112.74 235.02 113.50 235.37 114.26 235.71 C115.02 236.05 115.79 236.39 116.55 236.72 C117.31 237.06 118.08 237.40 118.84 237.73 C119.61 238.06 120.37 238.40 121.14 238.72 C121.91 239.05 122.68 239.38 123.44 239.70 C124.21 240.02 124.98 240.34 125.75 240.66 C126.53 240.98 127.30 241.29 128.07 241.60 C128.84 241.91 129.62 242.22 130.39 242.53 C131.17 242.83 131.95 243.13 132.73 243.43 C133.50 243.73 134.28 244.03 135.06 244.32 C135.84 244.62 136.62 244.91 137.40 245.20 C138.19 245.49 138.97 245.77 139.75 246.05 C140.54 246.34 141.32 246.62 142.11 246.90 C142.89 247.18 143.68 247.45 144.47 247.73 C145.26 248.00 146.04 248.27 146.83 248.54 C147.62 248.81 148.41 249.08 149.20 249.34 C150.00 249.61 150.79 249.87 151.58 250.13 C152.37 250.39 153.17 250.65 153.96 250.91 C154.75 251.16 155.55 251.42 156.35 251.67 C157.14 251.92 157.94 252.17 158.73 252.42 C159.53 252.67 160.33 252.92 161.13 253.16 C161.93 253.41 162.73 253.65 163.53 253.89 C164.33 254.14 165.13 254.38 165.93 254.61 C166.73 254.85 167.53 255.09 168.33 255.33 C169.14 255.56 169.94 255.80 170.74 256.03 C171.54 256.26 172.35 256.49 173.15 256.72 C173.96 256.95 174.76 257.18 175.57 257.41 C176.37 257.64 177.18 257.87 177.99 258.09 C178.79 258.32 179.60 258.54 180.41 258.76 C181.21 258.99 182.02 259.21 182.83 259.43 C183.64 259.65 184.44 259.87 185.25 260.09 C186.06 260.31 186.87 260.53 187.68 260.75 C188.49 260.96 189.30 261.18 190.11 261.40 C190.92 261.61 191.73 261.83 192.54 262.04 C193.35 262.26 194.16 262.47 194.97 262.69 C195.78 262.90 196.59 263.11 197.41 263.33 C198.22 263.54 199.03 263.75 199.84 263.96 C200.65 264.18 201.46 264.39 202.27 264.60 C203.09 264.81 203.90 265.02 204.71 265.23 C205.52 265.44 206.33 265.65 207.15 265.87 C207.96 266.08 208.77 266.29 209.58 266.50 C210.40 266.71 211.21 266.92 212.02 267.13 C212.83 267.34 213.64 267.55 214.46 267.76 C215.27 267.97 216.08 268.18 216.89 268.40 C217.70 268.61 218.52 268.82 219.33 269.03 C220.14 269.24 220.95 269.46 221.76 269.67 C222.58 269.88 223.39 270.09 224.20 270.31 C225.01 270.52 225.82 270.74 226.63 270.95 C227.44 271.17 228.25 271.38 229.06 271.60 C229.87 271.81 230.68 272.03 231.49 272.25 C232.30 272.46 233.11 272.68 233.92 272.90 C234.73 273.12 235.54 273.34 236.35 273.56 C237.16 273.78 237.97 274.01 238.77 274.23 C239.58 274.45 240.39 274.68 241.20 274.90 C242.00 275.13 242.81 275.35 243.62 275.58 C244.42 275.81 245.23 276.04 246.03 276.27 C246.84 276.50 247.64 276.73 248.45 276.96 C249.25 277.19 250.06 277.43 250.86 277.66 C251.66 277.90 252.46 278.13 253.27 278.37 C254.07 278.61 254.87 278.85 255.67 279.08 C256.48 279.32 257.28 279.56 258.08 279.80 C258.88 280.04 259.68 280.29 260.48 280.53 C261.28 280.77 262.08 281.01 262.88 281.26 C263.68 281.50 264.48 281.74 265.28 281.99 C266.08 282.23 266.88 282.47 267.68 282.72 C268.47 282.96 269.27 283.21 270.07 283.45 C270.87 283.70 271.67 283.94 272.47 284.19 C273.26 284.43 274.06 284.68 274.86 284.93 C275.66 285.17 276.45 285.42 277.25 285.66 C278.05 285.90 278.85 286.15 279.64 286.39 C280.44 286.64 281.24 286.88 282.04 287.12 C282.83 287.37 283.63 287.61 284.43 287.85 C285.22 288.09 286.02 288.34 286.82 288.58 C287.61 288.82 288.41 289.06 289.21 289.30 C290.01 289.54 290.80 289.77 291.60 290.01 C292.40 290.25 293.19 290.49 293.99 290.72 C294.79 290.96 295.59 291.19 296.38 291.42 C297.18 291.66 297.98 291.89 298.78 292.12 C299.58 292.35 300.37 292.58 301.17 292.80 C301.97 293.03 302.77 293.26 303.57 293.48 C304.37 293.71 305.17 293.93 305.97 294.16 C306.77 294.38 307.56 294.61 308.36 294.83 C309.16 295.06 309.96 295.29 310.77 295.51 C311.57 295.74 312.37 295.97 313.17 296.20 C313.97 296.43 314.77 296.66 315.57 296.89 C316.37 297.12 317.18 297.36 317.98 297.60 C318.78 297.83 319.58 298.07 320.39 298.32 C321.19 298.56 322.00 298.81 322.80 299.06 C323.60 299.31 324.41 299.56 325.22 299.82 C326.02 300.08 326.83 300.34 327.63 300.61 C328.44 300.87 329.25 301.15 330.05 301.42 C330.86 301.70 331.67 301.98 332.48 302.27 C333.28 302.56 334.09 302.85 334.90 303.15 C335.70 303.45 336.50 303.76 337.30 304.08 C338.10 304.39 338.90 304.71 339.69 305.04 C340.48 305.37 341.27 305.70 342.05 306.05 C342.83 306.39 343.61 306.74 344.38 307.10 C345.14 307.47 345.91 307.84 346.66 308.21 C347.41 308.59 348.16 308.98 348.90 309.38 C349.63 309.78 350.36 310.18 351.08 310.60 C351.79 311.02 352.50 311.45 353.19 311.89 C353.89 312.33 354.57 312.79 355.24 313.25 C355.91 313.72 356.57 314.20 357.21 314.69 C357.85 315.19 358.48 315.69 359.09 316.22 C359.70 316.74 360.30 317.28 360.88 317.83 C361.46 318.39 362.03 318.96 362.57 319.55 C363.12 320.14 363.65 320.75 364.16 321.37 C364.66 322.00 365.15 322.65 365.61 323.31 C366.07 323.97 366.51 324.66 366.91 325.36 C367.31 326.06 367.69 326.78 368.02 327.52 C368.35 328.27 368.65 329.03 368.91 329.81 C369.16 330.59 369.38 331.39 369.54 332.22 C369.70 333.04 369.83 333.88 369.89 334.75 C369.95 335.61 369.97 336.50 369.92 337.41 C369.87 338.32 369.65 339.73 369.60 340.20" stroke="#000" stroke-dasharray="5.85 3.74"/>
</g>
<g fill="#000"><path transform="translate(10.00 26.05) scale(7.500 7.500)" d="M.278 -1.060L.135 -1.012L.063 -.948L.000 -.825L.000 -.746L.063 -.671L.123 -.655L.214 -.746L.206 -.794L.151 -.853L.190 -.901L.310 -.940L.472 -.940L.536 -.909L.571 -.841L.571 -.730L.540 -.667L.472 -.631L.329 -.631L.294 -.603L.286 -.556L.329 -.512L.472 -.512L.579 -.440L.619 -.321L.619 -.206L.583 -.135L.472 -.060L.294 -.063L.190 -.099L.155 -.135L.206 -.206L.214 -.254L.151 -.329L.091 -.345L.008 -.270L.000 -.175L.052 -.067L.135 .012L.278 .060L.508 .060L.675 -.004L.734 -.067L.786 -.175L.782 -.361L.734 -.456L.639 -.556L.687 -.591L.738 -.698L.738 -.873L.687 -.980L.651 -1.012L.508 -1.060Z"/>
<path transform="translate(25.95 26.05) scale(7.500 7.500)" d="M.313 -1.060L.254 -1.044L.115 -.905L.032 -.865L.000 -.825L.008 -.778L.044 -.750L.087 -.754L.190 -.802L.190 -.063L.028 -.052L.000 -.016L.000 .016L.044 .060L.504 .060L.548 .016L.540 -.032L.504 -.060L.357 -.063L.357 -1.016Z"/>
<path transform="translate(31.15 26.05) scale(7.500 7.500)" d="M.345 -1.063L.171 -1.004L.056 -.845L.000 -.591L.000 -.409L.048 -.175L.151 -.012L.325 .060L.460 .060L.615 .004L.730 -.155L.786 -.409L.786 -.591L.738 -.825L.635 -.988L.460 -1.060ZM.361 -.940L.425 -.940L.536 -.865L.575 -.786L.619 -.563L.619 -.437L.575 -.214L.536 -.135L.425 -.060L.361 -.060L.250 -.135L.210 -.214L.167 -.437L.167 -.563L.210 -.786L.250 -.865Z"/>
<path transform="translate(38.50 22.75) scale(4.300 4.300)" d="M.063 -1.095L.024 -1.067L.000 -1.020L.000 -.694L.048 -.627L.119 -.615L.175 -.647L.198 -.694L.198 -.786L.218 -.825L.266 -.853L.317 -.853L.528 -.766L.615 -.754L.393 -.528L.286 -.258L.298 .052L.349 .095L.468 .095L.508 .067L.532 .020L.532 -.222L.571 -.341L.619 -.433L.817 -.687L.865 -.837L.861 -1.036L.817 -1.087L.742 -1.099L.687 -1.063L.639 -.968L.603 -.956L.373 -1.095L.222 -1.099L.171 -1.071L.119 -1.099Z"/>
<path transform="translate(10.00 132.38) scale(7.500 7.500)" d="M.135 -1.012L.052 -.933L.000 -.825L.000 -.746L.075 -.663L.139 -.663L.214 -.746L.214 -.778L.155 -.865L.198 -.905L.310 -.940L.472 -.940L.544 -.905L.619 -.794L.619 -.730L.571 -.651L.464 -.579L.175 -.437L.063 -.329L.000 -.163L.000 .016L.044 .060L.091 .052L.119 .016L.119 -.067L.135 -.083L.187 -.083L.425 .060L.647 .060L.722 -.004L.786 -.123L.786 -.254L.758 -.290L.694 -.290L.667 -.254L.667 -.171L.567 -.107L.452 -.107L.222 -.202L.143 -.206L.159 -.250L.242 -.333L.556 -.464L.714 -.567L.786 -.698L.782 -.837L.734 -.933L.675 -.996L.508 -1.060L.278 -1.060Z"/>
<path transform="translate(25.95 132.38) scale(7.500 7.500)" d="M.313 -1.060L.254 -1.044L.115 -.905L.032 -.865L.000 -.825L.008 -.778L.044 -.750L.087 -.754L.190 -.802L.190 -.063L.028 -.052L.000 -.016L.000 .016L.044 .060L.504 .060L.548 .016L.540 -.032L.504 -.060L.357 -.063L.357 -1.016Z"/>
<path transform="translate(31.15 132.38) scale(7.500 7.500)" d="M.345 -1.063L.171 -1.004L.056 -.845L.000 -.591L.000 -.409L.048 -.175L.151 -.012L.325 .060L.460 .060L.615 .004L.730 -.155L.786 -.409L.786 -.591L.738 -.825L.635 -.988L.460 -1.060ZM.361 -.940L.425 -.940L.536 -.865L.575 -.786L.619 -.563L.619 -.437L.575 -.214L.536 -.135L.425 -.060L.361 -.060L.250 -.135L.210 -.214L.167 -.437L.167 -.563L.210 -.786L.250 -.865Z"/>
<path transform="translate(38.50 129.08) scale(4.300 4.300)" d="M.063 -1.095L.024 -1.067L.000 -1.020L.000 -.694L.048 -.627L.119 -.615L.175 -.647L.198 -.694L.198 -.786L.218 -.825L.266 -.853L.317 -.853L.528 -.766L.615 -.754L.393 -.528L.286 -.258L.298 .052L.349 .095L.468 .095L.508 .067L.532 .020L.532 -.222L.571 -.341L.619 -.433L.817 -.687L.865 -.837L.861 -1.036L.817 -1.087L.742 -1.099L.687 -1.063L.639 -.968L.603 -.956L.373 -1.095L.222 -1.099L.171 -1.071L.119 -1.099Z"/>
<path transform="translate(26.45 238.72) scale(7.500 7.500)" d="M.313 -1.060L.254 -1.044L.115 -.905L.032 -.865L.000 -.825L.008 -.778L.044 -.750L.087 -.754L.190 -.802L.190 -.063L.028 -.052L.000 -.016L.000 .016L.044 .060L.504 .060L.548 .016L.540 -.032L.504 -.060L.357 -.063L.357 -1.016Z"/>
<path transform="translate(31.65 238.72) scale(7.500 7.500)" d="M.345 -1.063L.171 -1.004L.056 -.845L.000 -.591L.000 -.409L.048 -.175L.151 -.012L.325 .060L.460 .060L.615 .004L.730 -.155L.786 -.409L.786 -.591L.738 -.825L.635 -.988L.460 -1.060ZM.361 -.940L.425 -.940L.536 -.865L.575 -.786L.619 -.563L.619 -.437L.575 -.214L.536 -.135L.425 -.060L.361 -.060L.250 -.135L.210 -.214L.167 -.437L.167 -.563L.210 -.786L.250 -.865Z"/>
<path transform="translate(39.00 235.42) scale(4.300 4.300)" d="M.063 -1.095L.024 -1.067L.000 -1.020L.000 -.694L.048 -.627L.119 -.615L.175 -.647L.198 -.694L.198 -.786L.218 -.825L.266 -.853L.317 -.853L.528 -.766L.615 -.754L.393 -.528L.286 -.258L.298 .052L.349 .095L.468 .095L.508 .067L.532 .020L.532 -.222L.571 -.341L.619 -.433L.817 -.687L.865 -.837L.861 -1.036L.817 -1.087L.742 -1.099L.687 -1.063L.639 -.968L.603 -.956L.373 -1.095L.222 -1.099L.171 -1.071L.119 -1.099Z"/>
<path transform="translate(36.40 345.05) scale(7.500 7.500)" d="M.345 -1.063L.171 -1.004L.056 -.845L.000 -.591L.000 -.409L.048 -.175L.151 -.012L.325 .060L.460 .060L.615 .004L.730 -.155L.786 -.409L.786 -.591L.738 -.825L.635 -.988L.460 -1.060ZM.361 -.940L.425 -.940L.536 -.865L.575 -.786L.619 -.563L.619 -.437L.575 -.214L.536 -.135L.425 -.060L.361 -.060L.250 -.135L.210 -.214L.167 -.437L.167 -.563L.210 -.786L.250 -.865Z"/>
<path transform="translate(65.56 355.05) scale(7.500 7.500)" d="M.345 -1.063L.171 -1.004L.056 -.845L.000 -.591L.000 -.409L.048 -.175L.151 -.012L.325 .060L.460 .060L.615 .004L.730 -.155L.786 -.409L.786 -.591L.738 -.825L.635 -.988L.460 -1.060ZM.361 -.940L.425 -.940L.536 -.865L.575 -.786L.619 -.563L.619 -.437L.575 -.214L.536 -.135L.425 -.060L.361 -.060L.250 -.135L.210 -.214L.167 -.437L.167 -.563L.210 -.786L.250 -.865Z"/>
<path transform="translate(135.90 355.05) scale(7.500 7.500)" d="M.345 -1.063L.171 -1.004L.056 -.845L.000 -.591L.000 -.409L.048 -.175L.151 -.012L.325 .060L.460 .060L.615 .004L.730 -.155L.786 -.409L.786 -.591L.738 -.825L.635 -.988L.460 -1.060ZM.361 -.940L.425 -.940L.536 -.865L.575 -.786L.619 -.563L.619 -.437L.575 -.214L.536 -.135L.425 -.060L.361 -.060L.250 -.135L.210 -.214L.167 -.437L.167 -.563L.210 -.786L.250 -.865Z"/>
<path transform="translate(143.40 355.05) scale(7.500 7.500)" d="M.087 -.155L.016 -.091L.000 -.032L.063 .044L.123 .060L.198 -.004L.214 -.063L.147 -.143Z"/>
<path transform="translate(146.61 355.05) scale(7.500 7.500)" d="M.135 -1.012L.052 -.933L.000 -.825L.000 -.746L.075 -.663L.139 -.663L.214 -.746L.214 -.778L.155 -.865L.198 -.905L.310 -.940L.472 -.940L.544 -.905L.619 -.794L.619 -.730L.571 -.651L.464 -.579L.175 -.437L.063 -.329L.000 -.163L.000 .016L.044 .060L.091 .052L.119 .016L.119 -.067L.135 -.083L.187 -.083L.425 .060L.647 .060L.722 -.004L.786 -.123L.786 -.254L.758 -.290L.694 -.290L.667 -.254L.667 -.171L.567 -.107L.452 -.107L.222 -.202L.143 -.206L.159 -.250L.242 -.333L.556 -.464L.714 -.567L.786 -.698L.782 -.837L.734 -.933L.675 -.996L.508 -1.060L.278 -1.060Z"/>
<path transform="translate(211.22 355.05) scale(7.500 7.500)" d="M.345 -1.063L.171 -1.004L.056 -.845L.000 -.591L.000 -.409L.048 -.175L.151 -.012L.325 .060L.460 .060L.615 .004L.730 -.155L.786 -.409L.786 -.591L.738 -.825L.635 -.988L.460 -1.060ZM.361 -.940L.425 -.940L.536 -.865L.575 -.786L.619 -.563L.619 -.437L.575 -.214L.536 -.135L.425 -.060L.361 -.060L.250 -.135L.210 -.214L.167 -.437L.167 -.563L.210 -.786L.250 -.865Z"/>
<path transform="translate(218.72 355.05) scale(7.500 7.500)" d="M.087 -.155L.016 -.091L.000 -.032L.063 .044L.123 .060L.198 -.004L.214 -.063L.147 -.143Z"/>
<path transform="translate(221.58 355.05) scale(7.500 7.500)" d="M.603 -1.060L.563 -1.060L.532 -1.036L.000 -.302L.008 -.254L.044 -.226L.472 -.226L.476 -.063L.377 -.060L.333 -.016L.341 .032L.377 .060L.758 .052L.786 .016L.778 -.032L.742 -.060L.643 -.063L.643 -.222L.837 -.226L.881 -.270L.873 -.317L.837 -.345L.643 -.349L.643 -1.020ZM.472 -.746L.476 -.349L.187 -.345Z"/>
<path transform="translate(286.90 355.05) scale(7.500 7.500)" d="M.345 -1.063L.171 -1.004L.056 -.845L.000 -.591L.000 -.409L.048 -.175L.151 -.012L.325 .060L.460 .060L.615 .004L.730 -.155L.786 -.409L.786 -.591L.738 -.825L.635 -.988L.460 -1.060ZM.361 -.940L.425 -.940L.536 -.865L.575 -.786L.619 -.563L.619 -.437L.575 -.214L.536 -.135L.425 -.060L.361 -.060L.250 -.135L.210 -.214L.167 -.437L.167 -.563L.210 -.786L.250 -.865Z"/>
<path transform="translate(294.40 355.05) scale(7.500 7.500)" d="M.087 -.155L.016 -.091L.000 -.032L.063 .044L.123 .060L.198 -.004L.214 -.063L.147 -.143Z"/>
<path transform="translate(297.61 355.05) scale(7.500 7.500)" d="M.552 -1.060L.373 -1.060L.206 -.996L.099 -.885L.052 -.790L.000 -.591L.000 -.266L.048 -.123L.183 .012L.325 .060L.460 .060L.627 -.004L.738 -.123L.786 -.266L.786 -.353L.738 -.496L.603 -.631L.460 -.679L.373 -.679L.230 -.631L.175 -.591L.206 -.726L.250 -.817L.337 -.905L.409 -.940L.520 -.940L.587 -.905L.532 -.841L.524 -.794L.599 -.710L.647 -.702L.722 -.766L.738 -.794L.738 -.873L.687 -.980ZM.425 -.560L.496 -.524L.579 -.440L.619 -.298L.579 -.179L.496 -.095L.425 -.060L.361 -.060L.290 -.095L.206 -.179L.167 -.321L.206 -.440L.286 -.520Z"/>
<path transform="translate(362.40 355.05) scale(7.500 7.500)" d="M.345 -1.063L.171 -1.004L.056 -.845L.000 -.591L.000 -.409L.048 -.175L.151 -.012L.325 .060L.460 .060L.615 .004L.730 -.155L.786 -.409L.786 -.591L.738 -.825L.635 -.988L.460 -1.060ZM.361 -.940L.425 -.940L.536 -.865L.575 -.786L.619 -.563L.619 -.437L.575 -.214L.536 -.135L.425 -.060L.361 -.060L.250 -.135L.210 -.214L.167 -.437L.167 -.563L.210 -.786L.250 -.865Z"/>
<path transform="translate(369.90 355.05) scale(7.500 7.500)" d="M.087 -.155L.016 -.091L.000 -.032L.063 .044L.123 .060L.198 -.004L.214 -.063L.147 -.143Z"/>
<path transform="translate(373.11 355.05) scale(7.500 7.500)" d="M.298 -1.063L.123 -1.004L.052 -.885L.048 -.698L.115 -.571L.052 -.504L.000 -.397L.000 -.175L.052 -.067L.135 .012L.278 .060L.508 .060L.675 -.004L.734 -.067L.786 -.175L.786 -.397L.734 -.504L.671 -.571L.738 -.698L.738 -.873L.687 -.980L.651 -1.012L.508 -1.060ZM.313 -.512L.472 -.512L.544 -.476L.619 -.365L.619 -.206L.583 -.135L.472 -.060L.313 -.060L.242 -.095L.167 -.206L.167 -.365L.202 -.437ZM.246 -.905L.313 -.940L.472 -.940L.536 -.909L.571 -.841L.571 -.730L.540 -.667L.472 -.631L.313 -.631L.250 -.663L.214 -.730L.214 -.841Z"/>
<path transform="translate(204.40 370.30) scale(6.768 7.200)" d="M1.087 -1.048L.865 -1.060L.813 -1.028L.556 -.258L.294 -1.032L.262 -1.056L.040 -1.056L.008 -1.032L.000 -.984L.024 -.952L.143 -.940L.143 -.060L.024 -.048L.000 -.016L.000 .016L.024 .048L.357 .056L.397 .016L.397 -.016L.373 -.048L.254 -.060L.258 -.639L.476 .020L.500 .048L.548 .056L.587 .020L.806 -.639L.810 -.060L.690 -.048L.667 -.016L.667 .016L.706 .056L1.071 .056L1.103 .032L1.111 -.016L1.087 -.048L.968 -.060L.968 -.940L1.087 -.952L1.111 -.984L1.111 -1.016Z"/>
<path transform="translate(213.20 370.30) scale(6.840 7.200)" d="M.944 -1.238L.897 -1.246L.857 -1.210L.016 .286L.000 .349L.024 .381L.071 .389L.111 .353L.952 -1.143L.968 -1.206Z"/>
<path transform="translate(221.40 370.30) scale(6.768 7.200)" d="M1.087 -1.048L.865 -1.060L.813 -1.028L.556 -.258L.294 -1.032L.262 -1.056L.040 -1.056L.008 -1.032L.000 -.984L.024 -.952L.143 -.940L.143 -.060L.024 -.048L.000 -.016L.000 .016L.024 .048L.357 .056L.397 .016L.397 -.016L.373 -.048L.254 -.060L.258 -.639L.476 .020L.500 .048L.548 .056L.587 .020L.806 -.639L.810 -.060L.690 -.048L.667 -.016L.667 .016L.706 .056L1.071 .056L1.103 .032L1.111 -.016L1.087 -.048L.968 -.060L.968 -.940L1.087 -.952L1.111 -.984L1.111 -1.016Z"/>
<path transform="translate(9.60 185.80) rotate(-90) scale(7.200)" d="M.028 -1.052L.000 -1.016L.000 -.698L.044 -.655L.091 -.663L.119 -.698L.163 -.940L.333 -.937L.333 -.063L.218 -.052L.190 -.016L.198 .032L.234 .060L.615 .052L.643 .016L.635 -.032L.599 -.060L.500 -.063L.500 -.937L.671 -.940L.714 -.698L.742 -.663L.790 -.655L.833 -.698L.825 -1.032L.790 -1.060Z"/>
<path transform="translate(9.60 173.00) rotate(-90) scale(7.200)" d="M.377 -1.250L.246 -1.131L.151 -.988L.052 -.790L.000 -.544L.000 -.313L.052 -.067L.151 .131L.246 .274L.349 .377L.409 .393L.444 .365L.452 .317L.345 .198L.254 .016L.167 -.341L.167 -.516L.254 -.873L.345 -1.056L.452 -1.175L.444 -1.222L.409 -1.250Z"/>
<path transform="translate(9.60 168.10) rotate(-90) scale(7.200)" d="M.028 -1.052L.000 -1.016L.008 -.968L.044 -.940L.143 -.937L.143 -.063L.028 -.052L.000 -.016L.008 .032L.044 .060L.409 .060L.444 .032L.452 -.016L.425 -.052L.310 -.063L.310 -.353L.433 -.472L.706 -.063L.663 -.060L.627 -.032L.619 .016L.647 .052L.996 .052L1.024 .016L1.016 -.032L.980 -.060L.893 -.071L.548 -.591L.897 -.940L.996 -.948L1.024 -.984L1.016 -1.032L.980 -1.060L.647 -1.052L.619 -1.016L.627 -.968L.663 -.940L.718 -.937L.313 -.532L.310 -.937L.425 -.948L.452 -.984L.444 -1.032L.409 -1.060Z"/>
<path transform="translate(9.60 160.20) rotate(-90) scale(7.200)" d="M.044 -1.250L.008 -1.222L.000 -1.175L.107 -1.056L.198 -.873L.286 -.516L.286 -.341L.198 .016L.107 .198L.000 .317L.008 .365L.044 .393L.075 .393L.206 .274L.302 .131L.401 -.067L.452 -.313L.452 -.544L.401 -.790L.302 -.988L.206 -1.131L.103 -1.234Z"/></g>
<path d="M18.20 21.35L22.80 25.95M18.20 25.95L22.80 21.35" stroke="#000" stroke-width="1.02" stroke-linecap="round" fill="none"/>
<path d="M18.20 127.68L22.80 132.28M18.20 132.28L22.80 127.68" stroke="#000" stroke-width="1.02" stroke-linecap="round" fill="none"/>
<circle cx="232.3" cy="371.65" r="2.25" stroke="#000" stroke-width="1" fill="none"/><circle cx="232.3" cy="371.65" r="0.7" fill="#000"/>
<text fill="#000"><tspan x="105.10" y="269.90">Y</tspan><tspan x="112.90" y="273.00" font-size="7.7px" letter-spacing="0.55">ini</tspan><tspan x="138.30" y="269.90" letter-spacing="0.75">0.248</tspan></text><path d="M126.40 265.70h7.1M126.40 268.10h7.1" stroke="#000" stroke-width="0.95" fill="none"/>
<text fill="#ff0000"><tspan x="236.80" y="235.15">Y</tspan><tspan x="244.60" y="238.25" font-size="7.7px" letter-spacing="0.55">ini</tspan><tspan x="270.75" y="235.15" letter-spacing="0.55">0.4</tspan></text><path d="M258.10 230.95h7.1M258.10 233.35h7.1" stroke="#ff0000" stroke-width="0.95" fill="none"/>
<text fill="#ff00ff"><tspan x="258.55" y="158.50">Y</tspan><tspan x="266.35" y="161.60" font-size="7.7px" letter-spacing="0.55">ini</tspan><tspan x="291.75" y="158.50" letter-spacing="0.55">0.8</tspan></text><path d="M279.85 154.30h7.1M279.85 156.70h7.1" stroke="#ff00ff" stroke-width="0.95" fill="none"/>
</svg>
</body></html>
